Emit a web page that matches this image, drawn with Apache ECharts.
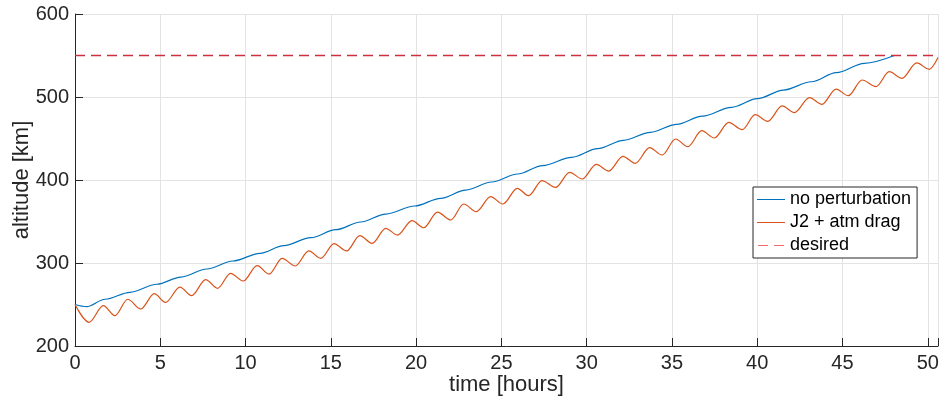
<!DOCTYPE html>
<html>
<head>
<meta charset="utf-8">
<script src="https://cdn.jsdelivr.net/npm/echarts@6/dist/echarts.min.js"></script>
<style>
  html, body { margin: 0; padding: 0; background: #fff; }
  #chart { width: 940px; height: 404px; }
</style>
</head>
<body>
<div id="chart"></div>
<script>
// Orbit-raising altitude history: ideal transfer vs. perturbed (J2 + drag)

// Ideal orbit (no perturbation): start, early dip, then one level step per revolution
const idealTime = [0, 0.68, 1.76, 3.22, 4.80, 6.21, 7.73, 9.26, 10.84, 12.24, 13.83, 15.29,
  16.75, 18.22, 19.92, 21.44, 22.91, 24.43, 25.95, 27.42, 29.12, 30.64, 32.16, 33.74,
  35.27, 36.79, 38.49, 40.01, 41.54, 43.18, 44.64, 46.28, 48.04];
const idealAlt = [250, 247.4, 256.3, 264.7, 274.4, 283.1, 292.8, 302.4, 311.7, 320.9, 330.5, 340.1,
  349.4, 358.9, 368.7, 377.9, 387.9, 397.6, 407.2, 417.4, 427.3, 437.7, 447.8, 457.5,
  467.1, 477.0, 487.6, 498.0, 508.4, 518.4, 529.3, 540.6, 550.0];

// Perturbed orbit: alternating troughs and peaks of the altitude oscillation
const perturbedTime = [0, 0.82, 1.66, 2.34, 3.09, 3.85, 4.65, 5.31, 6.15, 6.84, 7.66, 8.36, 9.12,
  9.86, 10.68, 11.38, 12.14, 12.91, 13.71, 14.41, 15.19, 15.92, 16.70, 17.42, 18.22,
  18.90, 19.76, 20.45, 21.25, 22.03, 22.79, 23.53, 24.37, 25.09, 25.93, 26.60, 27.38,
  28.18, 29.00, 29.74, 30.56, 31.30, 32.12, 32.85, 33.69, 34.43, 35.21, 35.93, 36.75,
  37.49, 38.33, 39.12, 39.88, 40.62, 41.46, 42.18, 43.06, 43.80, 44.62, 45.34, 46.15,
  46.96, 47.74, 48.49, 49.35, 50.09, 50.6];
const perturbedAlt = [250, 228.5, 248.6, 236.5, 256.3, 244.6, 263.0, 252.6, 271.0, 260.6, 280.0, 269.5, 287.6,
  278.3, 296.8, 286.7, 305.6, 296.4, 314.5, 305.6, 323.3, 314.5, 332.9, 323.7, 341.8,
  333.7, 351.0, 342.5, 361.4, 351.8, 371.1, 361.8, 379.9, 371.1, 390.0, 381.1, 399.2,
  391.0, 409.3, 401.2, 418.9, 410.8, 428.5, 420.1, 438.9, 430.1, 449.4, 440.1, 459.4,
  450.6, 469.5, 460.6, 478.7, 470.7, 489.2, 481.1, 499.2, 491.2, 509.6, 501.6, 520.5,
  512.4, 530.5, 522.5, 541.0, 533.4, 547.5];

// Target altitude
const desiredTime = [0, 50.6];
const desiredAlt = [550, 550];

const seriesNames = ['no perturbation', 'J2 + atm drag', 'desired'];
const xTickStep = 5;
const yTickStep = 100;

const pairs = (xs, ys) => xs.map((x, i) => [x, ys[i]]);

const FONT = "'Liberation Sans', Helvetica, Arial, sans-serif";
const INK = '#262626';
const BLUE = '#0072BD';
const ORANGE = '#D95319';
const RED = '#c8303f';

const chart = echarts.init(document.getElementById('chart'), null, { renderer: 'canvas' });

chart.setOption({
  animation: false,
  backgroundColor: '#ffffff',
  textStyle: { fontFamily: FONT },
  grid: { left: 75, right: 2, top: 14, bottom: 58, containLabel: false, outerBoundsMode: 'none' },
  legend: {
    orient: 'vertical',
    left: 753,
    top: 187,
    data: [
      { name: seriesNames[0], icon: 'rect', itemStyle: { color: BLUE } },
      { name: seriesNames[1], icon: 'rect', itemStyle: { color: ORANGE } },
      { name: seriesNames[2], icon: 'path://M0 0H10V1H0ZM16 0H26V1H16Z', itemStyle: { color: '#f06a6a' } }
    ],
    itemWidth: 28,
    itemHeight: 1,
    itemGap: 4,
    padding: [3, 6, 3, 4],
    backgroundColor: '#ffffff',
    borderColor: INK,
    borderWidth: 1,
    borderRadius: 0,
    textStyle: { fontFamily: FONT, fontSize: 18, color: '#000', height: 19, lineHeight: 19 }
  },
  xAxis: {
    type: 'value',
    min: 0,
    max: 50.6,
    interval: xTickStep,
    name: 'time [hours]',
    nameLocation: 'middle',
    nameGap: 28,
    nameMoveOverlap: false,
    nameTextStyle: { fontFamily: FONT, fontSize: 22, color: INK },
    axisLine: { show: true, onZero: false, lineStyle: { color: INK, width: 1 } },
    axisTick: { show: true, inside: true, length: 8, lineStyle: { color: INK } },
    axisLabel: {
      fontFamily: FONT, fontSize: 20, color: INK, margin: 7,
      formatter: v => (Math.abs(v % xTickStep) < 1e-9 ? String(v) : '')
    },
    splitLine: { show: true, lineStyle: { color: '#e3e3e3', width: 1 } }
  },
  yAxis: {
    type: 'value',
    min: 200,
    max: 600,
    interval: yTickStep,
    name: 'altitude [km]',
    nameLocation: 'middle',
    nameGap: 42,
    nameMoveOverlap: false,
    nameRotate: 90,
    nameTextStyle: { fontFamily: FONT, fontSize: 22, color: INK },
    axisLine: { show: true, onZero: false, lineStyle: { color: INK, width: 1 } },
    axisTick: { show: true, inside: true, length: 8, lineStyle: { color: INK } },
    axisLabel: { fontFamily: FONT, fontSize: 20, color: INK, margin: 6 },
    splitLine: { show: true, lineStyle: { color: '#e3e3e3', width: 1 } }
  },
  series: [
    {
      name: seriesNames[0],
      type: 'line',
      data: pairs(idealTime, idealAlt),
      showSymbol: false,
      symbol: 'none',
      smooth: 0.33,
      smoothMonotone: 'x',
      lineStyle: { color: BLUE, width: 1.2 },
      itemStyle: { color: BLUE },
      z: 2
    },
    {
      name: seriesNames[1],
      type: 'line',
      data: pairs(perturbedTime, perturbedAlt),
      showSymbol: false,
      symbol: 'none',
      smooth: 0.33,
      smoothMonotone: 'x',
      lineStyle: { color: ORANGE, width: 1.2 },
      itemStyle: { color: ORANGE },
      z: 3
    },
    {
      name: seriesNames[2],
      type: 'line',
      data: pairs(desiredTime, desiredAlt),
      showSymbol: false,
      symbol: 'none',
      lineStyle: { color: RED, width: 1.3, type: [10, 6] },
      itemStyle: { color: RED },
      z: 4
    }
  ]
});
</script>
</body>
</html>
